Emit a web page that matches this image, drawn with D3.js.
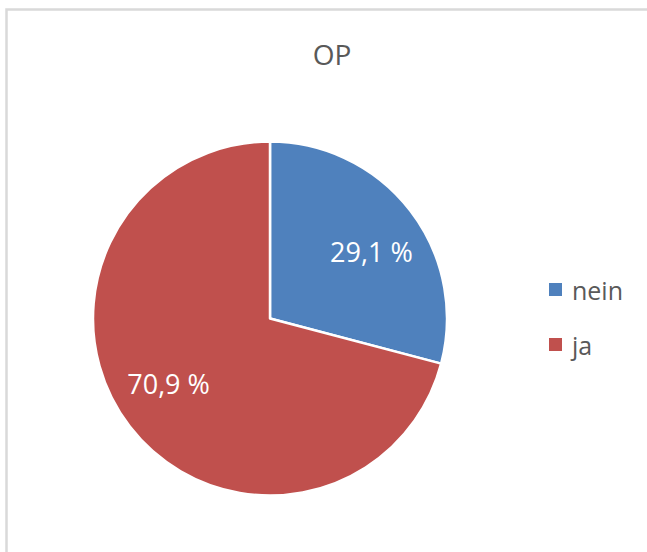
<!DOCTYPE html>
<html>
<head>
<meta charset="utf-8">
<script src="https://cdn.jsdelivr.net/npm/d3@7/dist/d3.min.js"></script>
<style>
  html, body { margin: 0; padding: 0; background: #fff; }
  svg { display: block; }
</style>
</head>
<body>
<svg id="chart" width="647" height="552"></svg>
<script>
// Chart data
const title = "OP";
const categories = ["nein", "ja"];
const values = [29.1, 70.9];
const colors = ["#4F81BD", "#C0504D"];

const fmt = v => d3.format(".1f")(v).replace(".", ",") + " %";

const svg = d3.select("#chart");
const W = 647, H = 552;

// Chart frame
svg.append("rect")
  .attr("x", 6.5).attr("y", 9.5)
  .attr("width", 700).attr("height", 600)
  .attr("fill", "#fff")
  .attr("stroke", "#d9d9d9")
  .attr("stroke-width", 2.5);

// Title
svg.append("text")
  .attr("x", 332).attr("y", 65)
  .attr("text-anchor", "middle")
  .attr("font-family", "'Open Sans', sans-serif")
  .attr("font-size", 28)
  .attr("fill", "#595959")
  .text(title);

const cx = 270, cy = 318.5, r = 177;
const data = categories.map((c, i) => ({ name: c, value: values[i], color: colors[i] }));

const pie = d3.pie().value(d => d.value).sort(null);
const arcs = pie(data);
const arc = d3.arc().innerRadius(0).outerRadius(r);

const g = svg.append("g").attr("transform", `translate(${cx},${cy})`);

g.selectAll("path")
  .data(arcs)
  .join("path")
  .attr("d", arc)
  .attr("fill", d => d.data.color)
  .attr("stroke", "#fff")
  .attr("stroke-width", 2.5)
  .attr("stroke-linejoin", "round");

// Percentage labels inside slices
const labelR = 121;
g.selectAll("text.lbl")
  .data(arcs)
  .join("text")
  .attr("class", "lbl")
  .attr("x", d => labelR * Math.sin((d.startAngle + d.endAngle) / 2 + 0.08))
  .attr("y", d => -labelR * Math.cos((d.startAngle + d.endAngle) / 2 + 0.08))
  .attr("dy", "0.35em")
  .attr("text-anchor", "middle")
  .attr("font-family", "'Open Sans', sans-serif")
  .attr("font-size", 27)
  .attr("fill", "#fff")
  .text(d => fmt(d.data.value));

// Legend
const legend = svg.append("g").attr("transform", "translate(549,283)");
const leg = legend.selectAll("g")
  .data(data)
  .join("g")
  .attr("transform", (d, i) => `translate(0,${i * 55})`);
leg.append("rect")
  .attr("width", 13).attr("height", 13)
  .attr("fill", d => d.color);
leg.append("text")
  .attr("x", 23).attr("y", 17)
  .attr("font-family", "'Open Sans', sans-serif")
  .attr("font-size", 25)
  .attr("fill", "#595959")
  .text(d => d.name);
</script>
</body>
</html>
